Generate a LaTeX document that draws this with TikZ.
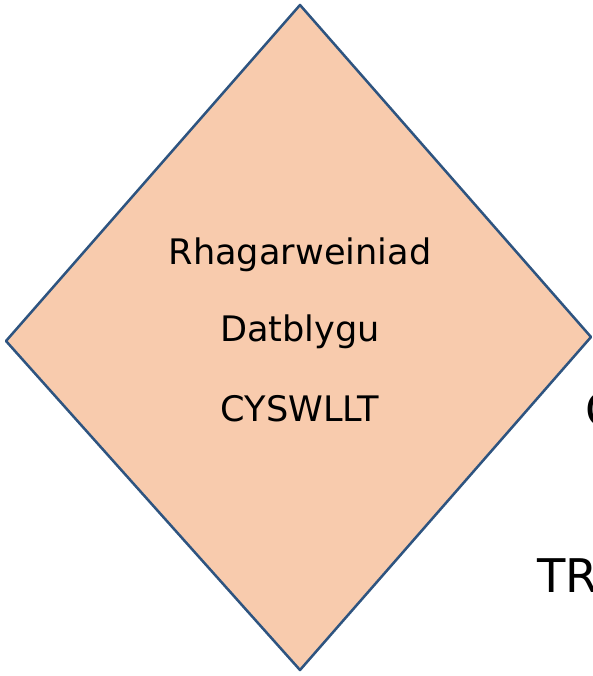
\documentclass[tikz,border=0pt]{standalone}
\usepackage{fontspec}
\setmainfont{DejaVu Sans}
\definecolor{peach}{RGB}{248,203,173}
\definecolor{edgeblue}{RGB}{46,84,128}
\begin{document}
\begin{tikzpicture}[x=0.025cm,y=-0.025cm, line join=round, line cap=round]
	\useasboundingbox (0,0) rectangle (592,676);
	\tikzset{lbl/.style={font=\fontsize{25}{29}\selectfont, inner sep=0pt},
		cut/.style={font=\fontsize{33}{37}\selectfont, inner sep=0pt, anchor=west}}
	\coordinate (T)at(300,5);
	\coordinate (L)at(6,341);
	\coordinate (R)at(591,337);
	\coordinate (B)at(300,670);
	\draw[fill=peach, draw=edgeblue, line width=1.8pt] (T)--(R)--(B)--(L)--cycle;
	\node[lbl] (rhag) at (300,255) {Rhagarweiniad};
	\node[lbl] (datb) at (300,332) {Datblygu};
	\node[lbl] (cysw) at (300,409) {CYSWLLT};
	\begin{scope}
	\clip (0,0) rectangle (592,676);
	\node[cut] (c) at (585,410) {C};
	\node[cut] (tr) at (537,576) {TR};
	\end{scope}
\end{tikzpicture}
\end{document}
